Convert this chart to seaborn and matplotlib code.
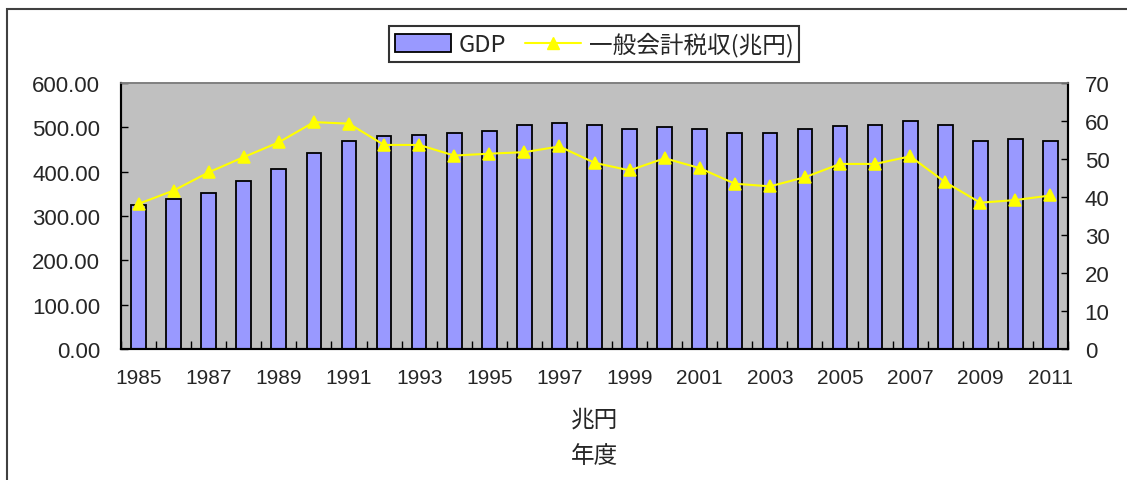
import numpy as np
import pandas as pd
import seaborn as sns
import matplotlib.pyplot as plt
from matplotlib.patches import Rectangle, Patch
from matplotlib.lines import Line2D
from matplotlib.ticker import FixedLocator

# 年度 / GDP(兆円) / 一般会計税収(兆円)
years = list(range(1985, 2012))
gdp = [325.3, 338.9, 352.4, 379.5, 406.6, 442.0, 469.9, 479.7, 483.4, 488.0,
       492.5, 505.3, 510.5, 505.3, 497.0, 500.8, 496.2, 488.0, 488.0, 497.0,
       502.3, 506.0, 514.3, 505.3, 469.9, 473.6, 469.9]
tax = [38.2, 41.7, 46.5, 50.5, 54.4, 59.7, 59.3, 53.7, 53.7, 50.9,
       51.4, 51.8, 53.3, 49.0, 47.0, 50.2, 47.6, 43.5, 42.8, 45.2,
       48.7, 48.7, 50.7, 43.9, 38.5, 39.2, 40.4]
leftTicks = [0, 100, 200, 300, 400, 500, 600]
rightTicks = [0, 10, 20, 30, 40, 50, 60, 70]

df = pd.DataFrame({'year': [str(y) for y in years], 'gdp': gdp, 'tax': tax})

sns.set_style('white')
plt.rcParams['font.family'] = ['Noto Sans CJK JP', 'DejaVu Sans']

barColor = '#9999ff'
lineColor = '#ffff00'

fig = plt.figure(figsize=(11.27, 4.81), dpi=100)
ax = fig.add_axes([121 / 1127, 1 - 350 / 481, (1068 - 121) / 1127, (350 - 84) / 481])
ax.set_facecolor('#c0c0c0')

sns.barplot(data=df, x='year', y='gdp', color=barColor, edgecolor='black',
            linewidth=1.3, width=0.42, saturation=1, ax=ax)

ax2 = ax.twinx()
sns.pointplot(data=df, x='year', y='tax', color=lineColor, markers='^',
              errorbar=None, markersize=9, linewidth=1.5, ax=ax2)

n = len(years)
ax.set_xlim(-0.5, n - 0.5)
ax2.set_xlim(-0.5, n - 0.5)
ax.set_ylim(0, 600)
ax2.set_ylim(0, 70)

# x tick labels every other year, tick marks on category boundaries
ax.set_xticks(range(0, n, 2))
ax.set_xticklabels([str(y) for y in years[::2]], family='Liberation Sans', fontsize=15)
ax.xaxis.set_minor_locator(FixedLocator(np.arange(n + 1) - 0.5))
ax.tick_params(axis='x', which='major', length=0, pad=14)
ax.tick_params(axis='x', which='minor', direction='in', length=6, width=1, color='black', bottom=True)

ax.set_yticks(leftTicks)
ax.set_yticklabels([f'{v:.2f}' for v in leftTicks], family='Liberation Sans', fontsize=16)
ax.tick_params(axis='y', direction='in', length=5, width=1, color='black', left=True, pad=15)

ax2.set_yticks(rightTicks)
ax2.set_yticklabels([str(v) for v in rightTicks], family='Liberation Sans', fontsize=16)
ax2.tick_params(axis='y', direction='in', length=5, width=1, color='black', right=True, pad=12)

ax.set_xlabel('')
ax.set_ylabel('')
ax2.set_ylabel('')
ax.grid(False)
ax2.grid(False)

for a in (ax, ax2):
    for side in ('left', 'bottom', 'right'):
        a.spines[side].set_color('black')
        a.spines[side].set_linewidth(1.5)
    a.spines['top'].set_color('#808080')
    a.spines['top'].set_linewidth(1.2)

fig.text(595 / 1127, 1 - 420 / 481, '兆円', ha='center', va='center', fontsize=17)
fig.text(595 / 1127, 1 - 457 / 481, '年度', ha='center', va='center', fontsize=17)

handles = [Patch(facecolor=barColor, edgecolor='black', linewidth=1.3),
           Line2D([], [], color=lineColor, marker='^', markersize=9, linewidth=1.5)]
leg = fig.legend(handles, ['GDP', '一般会計税収(兆円)'], loc='center',
                 bbox_to_anchor=(594 / 1127, 1 - 45 / 481), ncol=2, fontsize=17,
                 frameon=True, fancybox=False, edgecolor='black',
                 handlelength=2.4, handleheight=0.8, handletextpad=0.3,
                 columnspacing=0.8, borderpad=0.25, borderaxespad=0)
leg.get_frame().set_linewidth(1.5)

# outer chart border (cropped at right and bottom)
fig.patches.append(Rectangle((7 / 1127, -0.1), 1.2, 1.1 - 10 / 481,
                             transform=fig.transFigure, fill=False,
                             edgecolor='#404040', linewidth=1.5))

fig.savefig('out.png', dpi=100)
